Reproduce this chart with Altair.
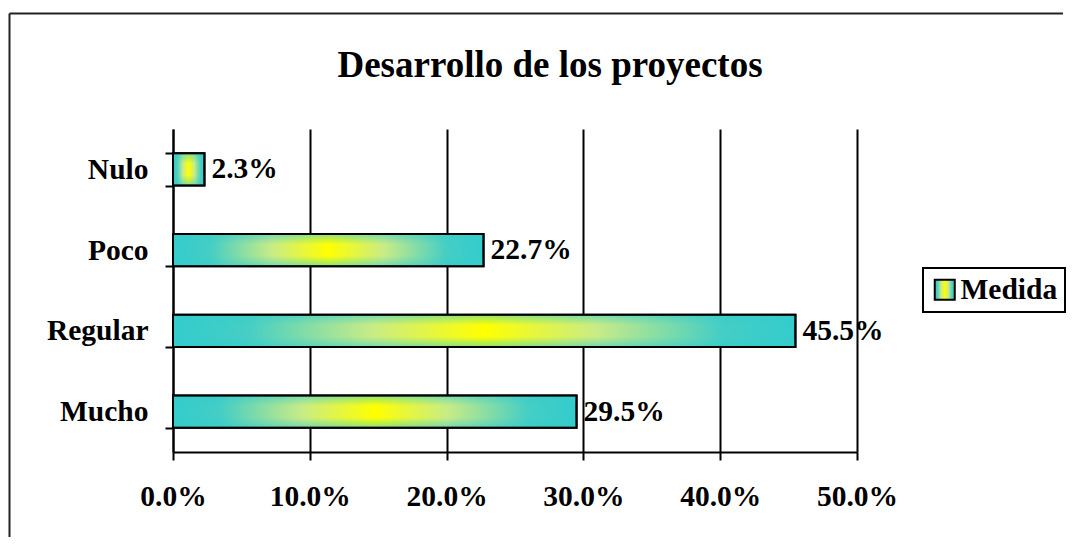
import altair as alt
import pandas as pd

categorias = ["Nulo", "Poco", "Regular", "Mucho"]
valores = [0.023, 0.227, 0.455, 0.295]
serie = ["Medida", "Medida", "Medida", "Medida"]
ticks_x = [0, 0.1, 0.2, 0.3, 0.4, 0.5]

FONT = "Liberation Serif"
FS = 29.5
CYAN = "#33cccc"

df = pd.DataFrame({"categoria": categorias, "valor": valores, "serie": serie})
marco = pd.DataFrame({"k": [0]})

grad_h = {
    "gradient": "linear", "x1": 0, "y1": 0, "x2": 1, "y2": 0,
    "stops": [
        {"offset": 0, "color": CYAN},
        {"offset": 0.12, "color": "#45cec5"},
        {"offset": 0.32, "color": "#c8ec86"},
        {"offset": 0.5, "color": "#ffff00"},
        {"offset": 0.68, "color": "#c8ec86"},
        {"offset": 0.88, "color": "#45cec5"},
        {"offset": 1, "color": CYAN},
    ],
}
grad_v = {
    "gradient": "linear", "x1": 0, "y1": 0, "x2": 0, "y2": 1,
    "stops": [
        {"offset": 0, "color": "rgba(51,204,204,0.55)"},
        {"offset": 0.32, "color": "rgba(51,204,204,0)"},
        {"offset": 0.68, "color": "rgba(51,204,204,0)"},
        {"offset": 1, "color": "rgba(51,204,204,0.55)"},
    ],
}

x_enc = alt.X(
    "valor:Q",
    scale=alt.Scale(domain=[0, 0.5], nice=False),
    axis=alt.Axis(
        format=".1%", values=ticks_x, title=None, grid=True, gridColor="black",
        gridWidth=2, gridOpacity=1, domainColor="black", domainWidth=2,
        tickColor="black", tickWidth=2, tickSize=8, labelFont=FONT,
        labelFontSize=FS, labelFontWeight="bold", labelColor="black",
        labelPadding=22, labelFlush=False,
    ),
)
y_enc = alt.Y(
    "categoria:N",
    sort=categorias,
    scale=alt.Scale(paddingInner=0.6, paddingOuter=0.3),
    axis=alt.Axis(
        title=None, tickBand="extent", grid=False, domainColor="black",
        domainWidth=2, tickColor="black", tickWidth=2, tickSize=8,
        labelFont=FONT, labelFontSize=FS, labelFontWeight="bold",
        labelColor="black", labelPadding=17,
    ),
)

barras = alt.Chart(df).mark_bar(fill=grad_h, strokeWidth=2).encode(
    x=x_enc,
    y=y_enc,
    stroke=alt.Stroke(
        "serie:N",
        scale=alt.Scale(range=["black"]),
        legend=alt.Legend(
            title=None, orient="none", legendX=750, legendY=139,
            symbolType="square", symbolSize=400, symbolStrokeWidth=2,
            labelFont=FONT, labelFontSize=FS, labelFontWeight="bold",
            labelColor="black", padding=7, strokeColor="black",
            fillColor="white", labelOffset=1,
        ),
    ),
)

capa = alt.Chart(df).mark_bar(fill=grad_v, stroke="black", strokeWidth=2).encode(
    x="valor:Q", y=alt.Y("categoria:N", sort=categorias)
)

etiquetas = alt.Chart(df).mark_text(
    align="left", baseline="middle", dx=7, font=FONT, fontSize=FS,
    fontWeight="bold", color="black",
).encode(
    x="valor:Q",
    y=alt.Y("categoria:N", sort=categorias),
    text=alt.Text("valor:Q", format=".1%"),
)

borde_sup = alt.Chart(marco).mark_rule(color="#222", strokeWidth=2).encode(
    x=alt.value(-163.5), x2=alt.value(890), y=alt.value(-115.5)
)
borde_izq = alt.Chart(marco).mark_rule(color="#222", strokeWidth=2).encode(
    x=alt.value(-163.5), y=alt.value(-115.5), y2=alt.value(408)
)

chart = alt.layer(borde_sup, borde_izq, barras, capa, etiquetas).properties(
    width=684,
    height=323,
    padding={"left": 0, "top": 4, "right": 0, "bottom": 0},
    title=alt.TitleParams(
        "Desarrollo de los proyectos", font=FONT, fontSize=37,
        fontWeight="bold", color="black", anchor="middle", dx=35, offset=-72,
    ),
).configure_view(stroke=None).configure_legend(strokeWidth=2)

chart.save("out.html", embed_options={"renderer": "svg", "actions": False})
